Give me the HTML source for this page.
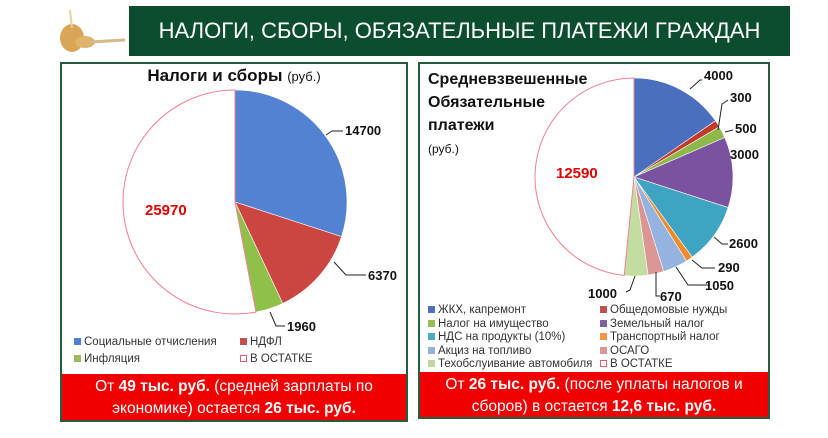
<!DOCTYPE html>
<html><head><meta charset="utf-8"><style>
body{margin:0;width:828px;height:438px;background:#fff;font-family:"Liberation Sans","DejaVu Sans",sans-serif;position:relative;overflow:hidden}
.hdr{position:absolute;left:129px;top:6px;width:661px;height:50px;background:#0b4d2e;color:#fff;font-size:22px;line-height:50px;text-align:center;letter-spacing:0px}
.panel{position:absolute;border:2px solid #275a3e;background:#fff}
.bar{position:absolute;left:0;right:0;bottom:0;background:#f00000;color:#fff;font-size:15.5px;text-align:center;line-height:22px;padding:2px 0}
.lg{position:absolute;font-size:11.5px;color:#333;white-space:nowrap}
.sq{display:inline-block;width:7px;height:7px;margin-right:3px;vertical-align:0}
</style></head><body>
<svg style="position:absolute;left:50px;top:8px" width="80" height="48">
<ellipse cx="22" cy="30" rx="12" ry="14" fill="#d9a657"/>
<ellipse cx="35" cy="34" rx="10" ry="6" fill="#e0b46a"/>
<path d="M40 34 L75 32" stroke="#d7b98a" stroke-width="3"/>
<path d="M20 2 L22 20" stroke="#e6cfa0" stroke-width="2"/>
</svg>
<div class="hdr">НАЛОГИ, СБОРЫ, ОБЯЗАТЕЛЬНЫЕ ПЛАТЕЖИ ГРАЖДАН</div>

<div class="panel" style="left:60px;top:62px;width:344px;height:356px">
<div style="position:absolute;left:0;right:0;top:2px;text-align:center;font-size:17px;font-weight:bold;color:#111">Налоги и сборы <span style="font-weight:normal;font-size:13px">(руб.)</span></div>
<div class="lg" style="left:12px;top:272px"><span class="sq" style="background:#4f7fd0"></span>Социальные отчисления</div>
<div class="lg" style="left:178px;top:272px"><span class="sq" style="background:#c0504d"></span>НДФЛ</div>
<div class="lg" style="left:12px;top:289px"><span class="sq" style="background:#9bbb59"></span>Инфляция</div>
<div class="lg" style="left:178px;top:289px"><span class="sq" style="border:1px solid #e06070;width:5px;height:5px"></span>В ОСТАТКЕ</div>
<div class="bar" style="height:42px">От <b>49 тыс. руб.</b> (средней зарплаты по<br>экономике) остается <b>26 тыс. руб.</b></div>
</div>

<div class="panel" style="left:418px;top:62px;width:348px;height:353px">
<div style="position:absolute;left:8px;top:4px;font-size:16px;font-weight:bold;color:#111;line-height:23px">Средневзвешенные<br>Обязательные<br>платежи<br><span style="font-weight:normal;font-size:12px">(руб.)</span></div>
<div class="lg" style="left:8px;top:240px"><span class="sq" style="background:#4f6fbf"></span>ЖКХ, капремонт</div>
<div class="lg" style="left:180px;top:240px"><span class="sq" style="background:#c0504d"></span>Общедомовые нужды</div>
<div class="lg" style="left:8px;top:254px"><span class="sq" style="background:#9bbb59"></span>Налог на имущество</div>
<div class="lg" style="left:180px;top:254px"><span class="sq" style="background:#8064a2"></span>Земельный налог</div>
<div class="lg" style="left:8px;top:267px"><span class="sq" style="background:#4bacc6"></span>НДС на продукты (10%)</div>
<div class="lg" style="left:180px;top:267px"><span class="sq" style="background:#f79646"></span>Транспортный налог</div>
<div class="lg" style="left:8px;top:281px"><span class="sq" style="background:#95b3d7"></span>Акциз на топливо</div>
<div class="lg" style="left:180px;top:281px"><span class="sq" style="background:#d99694"></span>ОСАГО</div>
<div class="lg" style="left:8px;top:294px"><span class="sq" style="background:#c3d69b"></span>Техобслуивание автомобиля</div>
<div class="lg" style="left:180px;top:294px"><span class="sq" style="border:1px solid #e06070;width:5px;height:5px"></span>В ОСТАТКЕ</div>
<div class="bar" style="height:41px">От <b>26 тыс. руб.</b> (после уплаты налогов и<br>сборов) в остается <b>12,6 тыс. руб.</b></div>
</div>

<svg id="s" style="position:absolute;left:0;top:0" width="828" height="438" font-family="Liberation Sans, sans-serif" font-weight="bold" font-size="13">
<g id="p1"></g><g id="p2"></g>
<g stroke="#222" fill="none" stroke-width="1">
<path d="M326 135 L332 131 L343 131"/><path d="M334 262 L346 275 L366 275"/><path d="M270 312 L276 326 L285 326"/>
<path d="M690 89 L700 80 L702 80"/><path d="M718 130 L722 104 L728 100"/><path d="M725 132 L733 130"/>
<path d="M714 237 L722 244 L728 244"/><path d="M692 260 L702 268 L715 268"/><path d="M676 267 L688 285 L708 285"/>
<path d="M656 272 L656 296 L660 296"/><path d="M635 276 L630 290 L626 292"/>
</g>
<g fill="#111">
<text x="345" y="135">14700</text><text x="368" y="280">6370</text><text x="287" y="331">1960</text>
<text x="704" y="80">4000</text><text x="730" y="102">300</text><text x="735" y="133">500</text><text x="730" y="159">3000</text>
<text x="729" y="248">2600</text><text x="718" y="272">290</text><text x="705" y="290">1050</text><text x="660" y="301">670</text><text x="588" y="298">1000</text>
</g>
<text x="145" y="215" fill="#e00000" font-size="15">25970</text>
<text x="556" y="178" fill="#e00000" font-size="15">12590</text>
</svg>
<script>
function pie(g,cx,cy,r,vals,cols){var t=vals.reduce((a,b)=>a+b,0),a=-Math.PI/2,h='';
vals.forEach((v,i)=>{var b=a+v/t*2*Math.PI,x1=cx+r*Math.cos(a),y1=cy+r*Math.sin(a),x2=cx+r*Math.cos(b),y2=cy+r*Math.sin(b);
var last=cols[i]=='none';
h+='<path d="M'+cx+' '+cy+' L'+x1+' '+y1+' A'+r+' '+r+' 0 '+((b-a)>Math.PI?1:0)+' 1 '+x2+' '+y2+' Z" fill="'+(last?'#fff':cols[i])+'" stroke="'+(last?'#f08090':'#fff')+'" stroke-width="'+(last?1:0.6)+'"/>';a=b;});
document.getElementById(g).innerHTML=h;}
pie('p1',235,202,112,[14700,6370,1960,25970],['#5482d2','#cc4540','#8fc04a','none']);
pie('p2',634,177,99,[4000,300,500,3000,2600,290,1050,670,1000,12590],['#4a6fbf','#c0392b','#8db84a','#7a52a0','#3fa3c2','#f08a2a','#95b3e0','#d99694','#c3dca0','none']);
</script>
</body></html>
